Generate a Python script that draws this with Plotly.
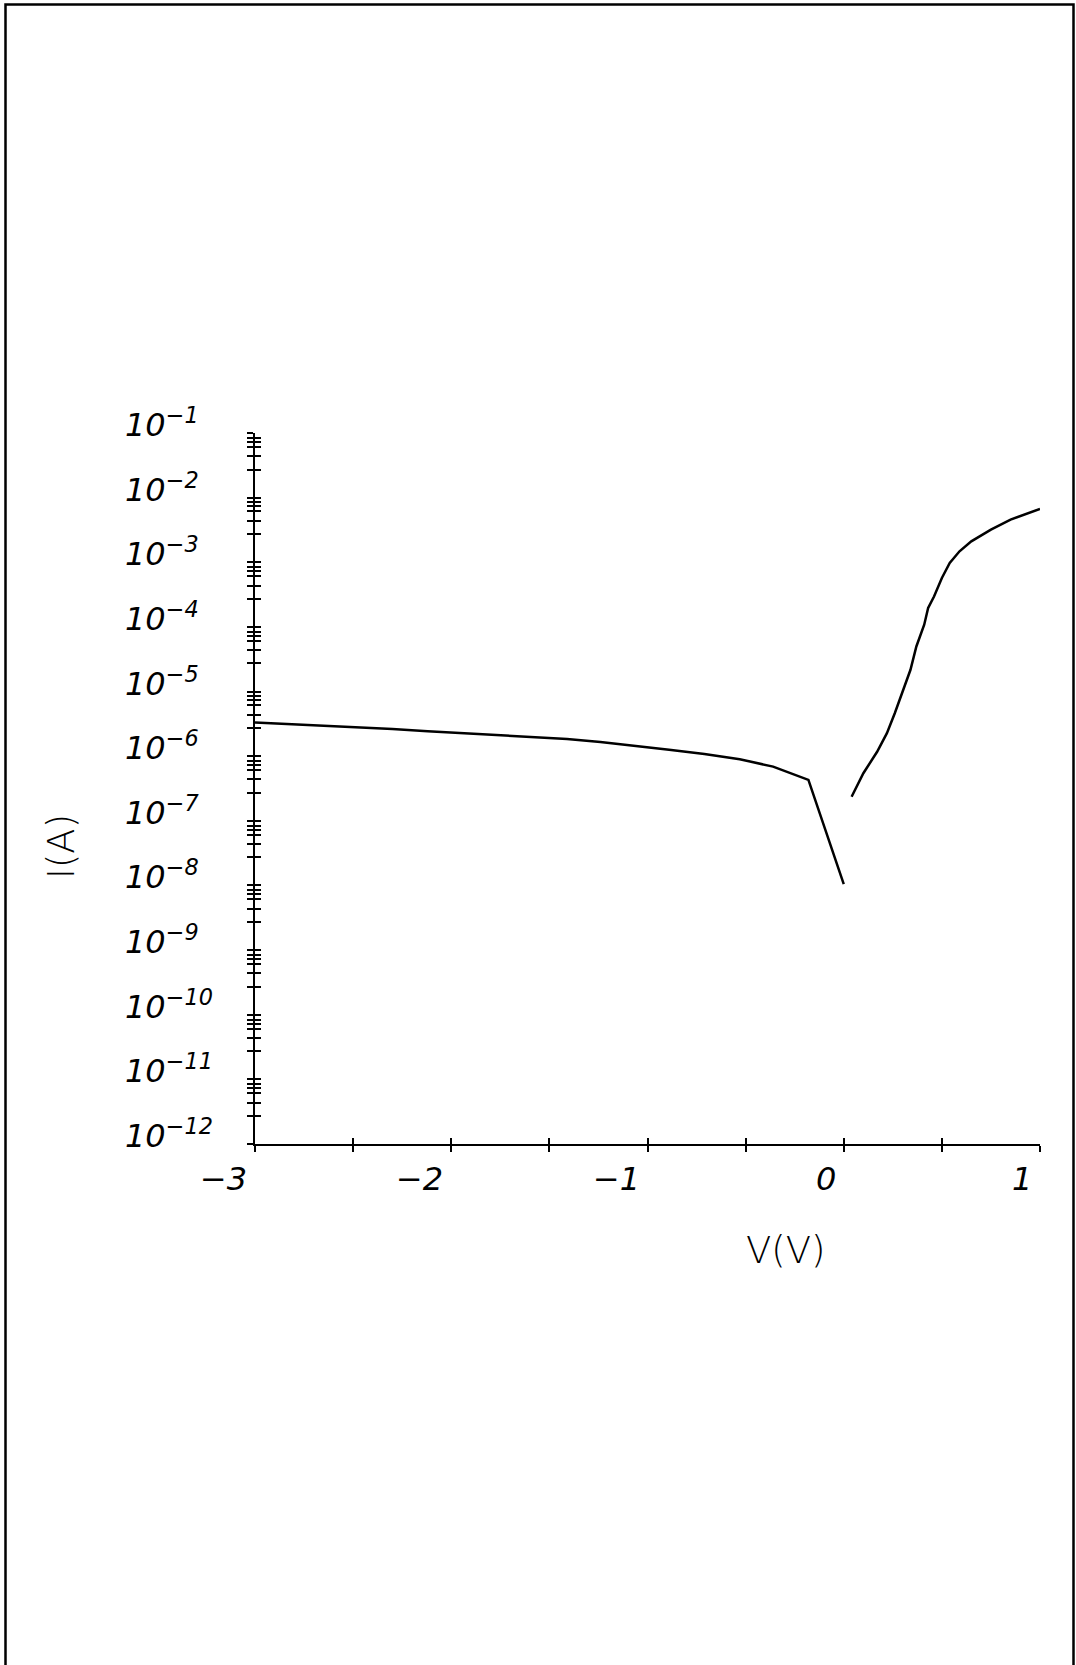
import plotly.graph_objects as go

# Reverse-bias branch (V, A)
V_REV = [-3.0, -2.82, -2.65, -2.47, -2.30, -2.12, -1.94, -1.77, -1.59, -1.41,
         -1.24, -1.06, -0.89, -0.71, -0.53, -0.36, -0.18, 0.0]
I_REV = [3.31e-6, 3.13e-6, 2.97e-6, 2.84e-6, 2.64e-6, 2.43e-6, 2.27e-6, 2.13e-6,
         1.99e-6, 1.85e-6, 1.66e-6, 1.46e-6, 1.26e-6, 1.08e-6, 8.97e-7, 6.89e-7,
         4.29e-7, 1.05e-8]

# Forward-bias branch (V, A)
V_FWD = [0.04, 0.08, 0.10, 0.17, 0.22, 0.26, 0.30, 0.34, 0.37, 0.41, 0.43, 0.46,
         0.50, 0.54, 0.59, 0.65, 0.75, 0.85, 1.0]
I_FWD = [2.36e-7, 4.29e-7, 5.45e-7, 1.17e-6, 2.27e-6, 4.62e-6, 1.0e-5, 2.17e-5,
         4.98e-5, 1.08e-4, 1.96e-4, 2.96e-4, 5.71e-4, 9.75e-4, 1.48e-3, 2.11e-3,
         3.20e-3, 4.57e-3, 6.70e-3]

# Axis ticks
X_TICKS = [-3, -2.5, -2, -1.5, -1, -0.5, 0, 0.5, 1]
X_LABELS = [(-3, "\u22123"), (-2, "\u22122"), (-1, "\u22121"), (0, "0"), (1, "1")]
Y_EXPONENTS = list(range(-12, 0))          # decades 1e-12 .. 1e-1
Y_MINOR_FACTORS = [2.72, 4.37, 6.11, 7.31, 8.43]

W, H = 1076, 1665
ML, MR, MT, MB = 255, 36, 433, 521
PW, PH = W - ML - MR, H - MT - MB

y_tickvals = [10.0 ** e for e in Y_EXPONENTS]
for e in Y_EXPONENTS[:-1]:
    y_tickvals += [f * 10.0 ** e for f in Y_MINOR_FACTORS]
y_tickvals.sort()

FONT = "DejaVu Sans"
ink = "black"

fig = go.Figure()
fig.add_trace(go.Scatter(x=V_REV, y=I_REV, mode="lines",
                         line=dict(color=ink, width=2.5), showlegend=False))
fig.add_trace(go.Scatter(x=V_FWD, y=I_FWD, mode="lines",
                         line=dict(color=ink, width=2.5), showlegend=False))
# empty trace so the overlay axes (inner half of each tick) get a subplot
fig.add_trace(go.Scatter(x=[], y=[], xaxis="x2", yaxis="y2", mode="lines",
                         showlegend=False, hoverinfo="skip"))

common_x = dict(range=[-3, 1], showgrid=False, zeroline=False,
                tickmode="array", tickvals=X_TICKS, ticklen=6, tickwidth=2,
                tickcolor=ink, showticklabels=False)
common_y = dict(type="log", range=[-12, -1], showgrid=False, zeroline=False,
                tickmode="array", tickvals=y_tickvals, ticklen=6, tickwidth=2,
                tickcolor=ink, showticklabels=False)

fig.update_layout(
    width=W, height=H,
    margin=dict(l=ML, r=MR, t=MT, b=MB, pad=0),
    paper_bgcolor="white", plot_bgcolor="white",
    xaxis=dict(**common_x, ticks="outside", showline=True, linecolor=ink, linewidth=2),
    xaxis2=dict(**common_x, ticks="inside", overlaying="x", anchor="y", side="bottom",
                showline=False),
    yaxis=dict(**common_y, ticks="outside", showline=True, linecolor=ink, linewidth=2),
    yaxis2=dict(**common_y, ticks="inside", overlaying="y", anchor="x", side="left",
                showline=False),
    showlegend=False,
)

label_font = dict(family=FONT, size=32, color=ink, style="italic")
title_font = dict(family=FONT, size=37, color=ink, weight=300)

annotations = []
# x tick labels, set just left of their ticks
for v, txt in X_LABELS:
    annotations.append(dict(x=v, y=0, xref="x", yref="paper", text=txt,
                            showarrow=False, xanchor="right", yanchor="top",
                            xshift=-6, yshift=-14, font=label_font))
# y decade labels, left-aligned with the "10" sitting on the decade line
for e in Y_EXPONENTS:
    annotations.append(dict(x=(123 - ML) / PW, y=e, xref="paper", yref="y",
                            text=f"10<sup>\u2212{-e}</sup>", showarrow=False,
                            xanchor="left", yanchor="bottom", yshift=-13,
                            font=label_font))
# axis titles
annotations.append(dict(x=(786 - ML) / PW, y=(MT + PH - 1250) / PH, xref="paper",
                        yref="paper", text="V(V)", showarrow=False,
                        xanchor="center", yanchor="middle", font=title_font))
annotations.append(dict(x=(61 - ML) / PW, y=(MT + PH - 847) / PH, xref="paper",
                        yref="paper", text="I(A)", showarrow=False, textangle=-90,
                        xanchor="center", yanchor="middle", font=title_font))
fig.update_layout(annotations=annotations)

# page frame
fig.add_shape(type="rect", xref="paper", yref="paper",
              x0=(5.5 - ML) / PW, x1=(1073.5 - ML) / PW,
              y0=(MT + PH - 1700) / PH, y1=(MT + PH - 4.5) / PH,
              line=dict(color=ink, width=2.5), fillcolor="rgba(0,0,0,0)")

fig.write_html("out.html")
